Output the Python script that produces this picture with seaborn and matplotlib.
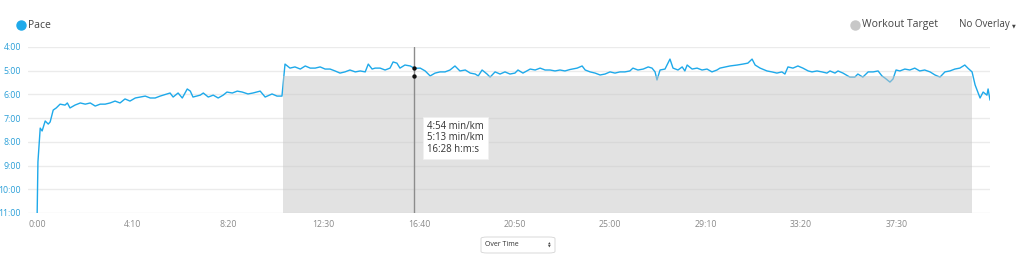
import matplotlib
matplotlib.use("Agg")
import matplotlib.pyplot as plt
import seaborn as sns
import pandas as pd
from matplotlib.lines import Line2D
from matplotlib.patches import FancyBboxPatch

# ---------------- data ----------------
# elapsed time (s) and pace (min/km, decimal)
time_s = [0, 2, 8, 13, 21, 29, 34, 42, 50, 60, 73, 79, 86, 99, 113, 126, 139, 152, 165, 178,
          191, 204, 217, 230, 243, 257, 270, 283, 296, 309, 322, 330, 348, 356, 369, 380, 393,
          401, 408, 427, 435, 448, 461, 474, 487, 497, 511, 524, 537, 552, 565, 584, 597, 615,
          628, 641, 649, 662, 675, 689, 702, 715, 728, 741, 754, 767, 780, 793, 806, 819, 833,
          846, 859, 867, 877, 885, 898, 911, 924, 932, 942, 950, 963, 977, 988, 1003, 1016,
          1029, 1042, 1055, 1068, 1081, 1094, 1107, 1121, 1134, 1147, 1155, 1165, 1178, 1186,
          1199, 1212, 1225, 1238, 1251, 1259, 1272, 1291, 1304, 1317, 1330, 1343, 1356, 1369,
          1382, 1395, 1414, 1427, 1435, 1448, 1461, 1474, 1487, 1500, 1513, 1526, 1539, 1552,
          1560, 1573, 1587, 1600, 1610, 1618, 1623, 1631, 1644, 1657, 1665, 1678, 1689, 1696,
          1702, 1715, 1728, 1741, 1754, 1767, 1780, 1788, 1814, 1833, 1848, 1861, 1872, 1880,
          1893, 1911, 1924, 1937, 1950, 1958, 1966, 1979, 1992, 2005, 2019, 2029, 2042, 2055,
          2068, 2076, 2089, 2097, 2110, 2128, 2141, 2149, 2162, 2176, 2189, 2202, 2212, 2220,
          2233, 2241, 2249, 2259, 2272, 2285, 2298, 2311, 2324, 2338, 2351, 2364, 2377, 2390,
          2403, 2416, 2429, 2437, 2448, 2456, 2463, 2469, 2477, 2487, 2490, 2495]
pace_min = [11.0, 8.85, 7.42, 7.54, 7.12, 7.25, 7.16, 6.66, 6.57, 6.41, 6.45, 6.36, 6.57, 6.45,
            6.36, 6.41, 6.36, 6.49, 6.41, 6.41, 6.36, 6.28, 6.36, 6.19, 6.28, 6.15, 6.11, 6.07,
            6.15, 6.15, 6.07, 6.03, 5.94, 6.11, 5.94, 6.15, 5.77, 5.86, 6.11, 6.03, 5.94, 6.11,
            6.03, 6.15, 6.03, 5.90, 5.94, 5.86, 5.90, 5.98, 5.94, 5.86, 6.11, 5.98, 6.07, 6.07,
            4.72, 4.89, 4.84, 4.93, 4.80, 4.89, 4.89, 4.84, 4.93, 4.93, 5.01, 5.10, 5.05, 4.97,
            5.05, 5.01, 5.05, 4.72, 4.93, 4.89, 4.89, 4.97, 4.89, 4.63, 4.68, 4.89, 4.76, 4.80,
            4.90, 4.89, 5.01, 5.22, 5.10, 5.05, 5.05, 4.97, 4.80, 5.01, 4.97, 5.10, 5.14, 5.22,
            4.97, 5.14, 5.27, 5.05, 5.14, 5.05, 5.14, 5.10, 4.97, 5.10, 4.93, 4.97, 4.89, 4.97,
            4.97, 5.01, 4.97, 5.01, 4.95, 4.89, 4.80, 4.97, 5.05, 5.10, 5.18, 5.14, 5.05, 5.10,
            5.05, 5.05, 5.01, 4.89, 4.97, 4.93, 4.84, 4.89, 5.05, 5.39, 4.97, 4.93, 4.51, 4.89,
            4.97, 4.84, 5.01, 4.76, 4.93, 4.89, 4.97, 4.93, 5.05, 4.97, 4.89, 4.80, 4.76, 4.72,
            4.68, 4.51, 4.76, 4.89, 5.01, 5.05, 5.10, 5.05, 5.14, 4.84, 4.89, 4.80, 4.89, 5.01,
            5.05, 5.01, 5.05, 5.10, 5.01, 5.10, 5.01, 5.10, 5.27, 5.27, 5.14, 5.27, 5.05, 5.05,
            5.01, 5.22, 5.31, 5.48, 5.35, 4.97, 5.01, 4.93, 4.97, 4.89, 5.01, 4.97, 5.05, 5.18,
            5.27, 5.05, 5.01, 4.93, 4.89, 4.76, 4.89, 5.05, 5.60, 5.90, 6.15, 5.90, 6.03, 5.77,
            6.24]

target_pace = 5 + 13 / 60          # 5:13 min/km
target_start, target_end = 644, 2448

cursor_time = 988                  # 16:28
cursor_pace = 4 + 54 / 60          # 4:54 min/km
tooltip_lines = ["4:54 min/km", "5:13 min/km", "16:28 h:m:s"]

x_ticks = [0, 250, 500, 750, 1000, 1250, 1500, 1750, 2000, 2250]
x_labels = ["0:00", "4:10", "8:20", "12:30", "16:40", "20:50", "25:00", "29:10", "33:20", "37:30"]
y_ticks = [4, 5, 6, 7, 8, 9, 10, 11]
y_labels = ["4:00", "5:00", "6:00", "7:00", "8:00", "9:00", "10:00", "11:00"]

# ---------------- style ----------------
sns.set_style("white")
plt.rcParams["font.family"] = ["Open Sans", "DejaVu Sans"]

BLUE = "#1ea9ea"
df = pd.DataFrame({"t": time_s, "pace": pace_min})

fig = plt.figure(figsize=(10.21, 2.64), dpi=100)
ax = fig.add_axes([28 / 1021, 51 / 264, 962 / 1021, 166 / 264])

sns.lineplot(data=df, x="t", y="pace", ax=ax, color=BLUE, linewidth=1.0, zorder=2)

# workout target area (semi-transparent, over the line)
ax.fill_between([target_start, target_end], [target_pace, target_pace], [11, 11],
                color="#c6c6c6", alpha=0.5, linewidth=0, zorder=3)

ax.set_xlim(-24, 2495)
ax.set_ylim(11, 4)
ax.set_xticks(x_ticks)
ax.set_xticklabels(x_labels)
ax.set_yticks(y_ticks)
ax.set_yticklabels(y_labels)
ax.set_xlabel("")
ax.set_ylabel("")
ax.tick_params(axis="both", length=0)
ax.tick_params(axis="y", labelsize=6.3, labelcolor="#2a9fd8", pad=5)
ax.tick_params(axis="x", labelsize=6.3, labelcolor="#8a8a8a", pad=5)
for s in ax.spines.values():
    s.set_visible(False)
ax.grid(axis="y", color="#ebebeb", linewidth=1.0, zorder=0)
ax.grid(axis="x", visible=False)
ax.set_axisbelow(True)

# cursor
ax.axvline(cursor_time, color="#8c8c8c", linewidth=1.0, zorder=4)
ax.scatter([cursor_time, cursor_time], [cursor_pace, target_pace], s=10, color="#111111",
           zorder=5, linewidths=0)
ax.annotate("\n".join(tooltip_lines), xy=(cursor_time, 7.12), xytext=(9, 0),
            textcoords="offset points", ha="left", va="top", fontsize=6.9, color="#333333",
            linespacing=1.05,
            bbox=dict(boxstyle="square,pad=0.45", facecolor="white", edgecolor="#f0f0f0",
                      linewidth=0.6),
            zorder=6)

# top legend / controls
fig.add_artist(Line2D([21 / 1021], [1 - 25 / 264], marker="o", markersize=6.5, color=BLUE,
                      linestyle="none", transform=fig.transFigure))
fig.text(28 / 1021, 1 - 25 / 264, "Pace", fontsize=7.5, color="#444444", va="center")
fig.add_artist(Line2D([855 / 1021], [1 - 25 / 264], marker="o", markersize=6.5, color="#c8c8c8",
                      linestyle="none", transform=fig.transFigure))
fig.text(862 / 1021, 1 - 25 / 264, "Workout Target", fontsize=7.5, color="#444444", va="center")
fig.text(1010 / 1021, 1 - 25 / 264, "No Overlay", fontsize=7.0, color="#444444", va="center",
         ha="right")
fig.text(1011.5 / 1021, 1 - 26 / 264, "▼", fontsize=3.5, color="#444444", va="center")

# bottom selector
box = FancyBboxPatch((481 / 1021, 1 - 253 / 264), 74 / 1021, 16 / 264,
                     boxstyle="round,pad=0,rounding_size=0.006", transform=fig.transFigure,
                     facecolor="white", edgecolor="#d4d4d4", linewidth=0.6)
fig.add_artist(box)
fig.text(485 / 1021, 1 - 245 / 264, "Over Time", fontsize=5, color="#333333", va="center")
fig.text(549 / 1021, 1 - 243.3 / 264, "▲", fontsize=2.5, color="#444444", va="center", ha="center")
fig.text(549 / 1021, 1 - 246.7 / 264, "▼", fontsize=2.5, color="#444444", va="center", ha="center")

fig.savefig("out.png", dpi=100)
